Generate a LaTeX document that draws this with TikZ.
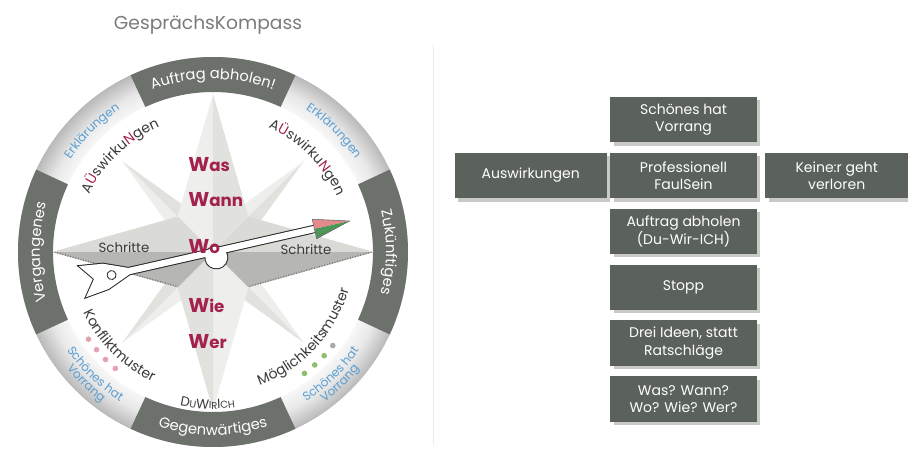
\documentclass[tikz,border=0pt]{standalone}
\usepackage{fontspec}
\setmainfont{Poppins}
\usetikzlibrary{positioning,calc,decorations.text,shadows}

\definecolor{ringdark}{HTML}{6D716C}
\definecolor{boxgray}{HTML}{5B615B}
\definecolor{shadowgray}{HTML}{C9C9C6}
\definecolor{wred}{HTML}{A3214D}
\definecolor{wblue}{HTML}{5A9ED2}
\definecolor{txtgray}{HTML}{3A3A3A}
\definecolor{titlegray}{HTML}{7B7B7B}
\definecolor{starA}{HTML}{EEEEEC}
\definecolor{starB}{HTML}{E1E1DE}
\definecolor{pointA}{HTML}{DADAD7}
\definecolor{pointB}{HTML}{B6B7B3}
\definecolor{tippink}{HTML}{E58A8C}
\definecolor{tipgreen}{HTML}{4E9558}
\definecolor{dotpink}{HTML}{E3A2AE}
\definecolor{dotgreen}{HTML}{8DBE6C}
\definecolor{dotgrey}{HTML}{A9AAA5}

\pgfdeclareradialshading{rimshade}{\pgfpoint{0bp}{0bp}}{color(0bp)=(gray!6); color(20.5bp)=(gray!6); color(22.5bp)=(gray!18); color(25bp)=(gray!55); color(50bp)=(gray!55)}

\newcommand{\ringfont}{\fontsize{11}{13}\selectfont\color{white}}
\newcommand{\awfont}{\fontsize{10.5}{12}\selectfont\color{txtgray}}
\newcommand{\bluefont}{\fontsize{9}{10}\selectfont\color{wblue}}
\newcommand{\scbig}{\fontsize{10}{12}\selectfont\color{txtgray}}
\newcommand{\scsmall}{\fontsize{7.5}{9}\selectfont\color{txtgray}}
\newcommand{\bigW}{{\fontsize{15}{17}\selectfont W}}

% text on a circle round the origin: clockwise (tops out) or counter-clockwise (tops in)
\newcommand{\cwtext}[4]{\path[decorate,decoration={text along path,text align=center,text={|#3|#4}}]
  ({#1+80}:#2) arc[start angle={#1+80},end angle={#1-80},radius=#2];}
\newcommand{\ccwtext}[4]{\path[decorate,decoration={text along path,text align=center,text={|#3|#4}}]
  ({#1-80}:#2) arc[start angle={#1-80},end angle={#1+80},radius=#2];}

\tikzset{
  kbox/.style={fill=boxgray, text=white, align=center, inner sep=0pt,
    minimum width=110pt, minimum height=34pt, font=\fontsize{10.5}{13}\selectfont,
    drop shadow={shadow xshift=2.5pt, shadow yshift=-2.5pt, fill=shadowgray, opacity=1}},
  wword/.style={anchor=west, text=wred, inner sep=0pt, font=\fontsize{12.5}{15}\selectfont\bfseries},
  schritt/.style={text=txtgray, inner sep=0pt, font=\fontsize{10}{11}\selectfont},
  ruler/.style={draw=black!55, line width=2.2pt, dash pattern=on 0.6pt off 1.4pt},
  needleline/.style={draw=black!85, line width=1.5pt},
  needlefill/.style={fill=white}
}

\begin{document}
\begin{tikzpicture}[x=0.75pt,y=0.75pt]
\useasboundingbox (0,0) rectangle (908,451);

\node[text=titlegray, font=\fontsize{14}{16}\selectfont] (title) at (208,426) {GesprächsKompass};
\draw[black!8, line width=0.6pt] (433,406) -- (433,6);

\begin{scope}[shift={(213,199)}]
  % rim with the four dark sectors
  \shade[shading=rimshade] (0,0) circle (195);
  \fill[white] (0,0) circle (160);
  \foreach \a in {0,90,180,270}
    \fill[ringdark] ({\a-25}:195) arc[start angle={\a-25}, end angle={\a+25}, radius=195]
      -- ({\a+25}:160) arc[start angle={\a+25}, end angle={\a-25}, radius=160] -- cycle;

  % compass rose
  \foreach \a in {45,135,225,315} {
    \fill[starA] (0,0) -- ({\a+20}:42) -- (\a:128) -- cycle;
    \fill[starB] (0,0) -- (\a:128) -- ({\a-20}:42) -- cycle;
  }
  \foreach \a in {90,270} {
    \fill[starA] (0,0) -- ({\a+45}:50) -- (\a:158) -- cycle;
    \fill[starB] (0,0) -- (\a:158) -- ({\a-45}:50) -- cycle;
  }
  \foreach \a/\u/\l in {0/45/-45,180/135/225} {
    \fill[pointA] (0,0) -- (\u:50) -- (\a:161) -- cycle;
    \fill[pointB] (0,0) -- (\a:161) -- (\l:50) -- cycle;
    \begin{scope}
      \clip (0,0) -- (\a:161) -- (\l:50) -- cycle;
      \draw[ruler] (\a:161) -- (\l:50);
    \end{scope}
  }

  % rim texts
  \cwtext{90}{173}{\ringfont}{Auftrag abholen!}
  \cwtext{180}{173}{\ringfont}{Vergangenes}
  \cwtext{0}{173}{\ringfont}{Zukünftiges}
  \ccwtext{270}{183}{\ringfont}{Gegenwärtiges}
  \cwtext{135}{170}{\bluefont}{Erklärungen}
  \cwtext{45}{170}{\bluefont}{Erklärungen}
  \ccwtext{226}{176}{\bluefont}{Schönes hat}
  \ccwtext{226}{187}{\bluefont}{Vorrang}
  \ccwtext{314}{176}{\bluefont}{Schönes hat}
  \ccwtext{314}{187}{\bluefont}{Vorrang}

  % inner ring of words
  \cwtext{134}{136}{\awfont}{A|\awfont\color{wred}|Ü|\awfont|swirku|\awfont\color{wred}|N|\awfont|gen}
  \cwtext{45}{136}{\awfont}{A|\awfont\color{wred}|Ü|\awfont|swirku|\awfont\color{wred}|N|\awfont|gen}
  \ccwtext{225}{143}{\awfont}{Konfliktmuster}
  \ccwtext{317}{141}{\awfont}{Möglichkeitsmuster}
  \ccwtext{268}{157}{\scbig}{D|\scsmall|U|\scbig|W|\scsmall|IR|\scbig|I|\scsmall|CH}

  \foreach \a in {215,220,225,230}
    \fill[dotpink] (\a:152) circle (2.8);
  \foreach \a/\c in {307/dotgreen,312/dotgreen,317/dotgreen,322/dotgrey}
    \fill[\c] (\a:152) circle (2.8);

  \node[schritt] (schrittL) at (-89,5) {Schritte};
  \node[schritt] (schrittR) at (93,3) {Schritte};

  % needle
  \begin{scope}[rotate=12.8]
    \foreach \s in {needleline,needlefill} {
      \path[\s] (106,3.2) -- (-86,3.2) -- (-110,13) -- (-134,16) -- (-122,0)
        -- (-134,-16) -- (-110,-13) -- (-86,-3.2) -- (106,-3.2) -- cycle;
      \path[\s] (2,-6) circle (11);
    }
    \draw[black!85, fill=white, line width=0.6pt] (-104,0) circle (4.5);
    \fill[tippink] (104,0) -- (104,10) -- (140,0) -- cycle;
    \fill[tipgreen] (104,0) -- (140,0) -- (104,-10) -- cycle;
    \draw[black!60, line width=0.4pt] (104,10) -- (140,0) -- (104,-10) -- cycle;
  \end{scope}

  \node[wword] (was)  at (-25,87)  {\bigW as};
  \node[wword] (wann) at (-25,52)  {\bigW ann};
  \node[wword] (wo)   at (-25,5)   {\bigW o};
  \node[wword] (wie)  at (-25,-54) {\bigW ie};
  \node[wword] (wer)  at (-25,-90) {\bigW er};
\end{scope}

% cards
\node[kbox] (prof) at (683.5,275.5) {Professionell\\FaulSein};
\node[kbox, above=7.5pt of prof] (schoen) {Schönes hat\\Vorrang};
\node[kbox, minimum width=114pt, left=2.2pt of prof] (ausw) {Auswirkungen};
\node[kbox, minimum width=107pt, right=6pt of prof] (keiner) {Keine:r geht\\verloren};
\node[kbox, below=7.5pt of prof] (auftrag) {Auftrag abholen\\(Du-Wir-ICH)};
\node[kbox, below=7.5pt of auftrag] (stopp) {Stopp};
\node[kbox, below=7.5pt of stopp] (ideen) {Drei Ideen, statt\\Ratschläge};
\node[kbox, below=7.5pt of ideen] (fragen) {Was? Wann?\\Wo? Wie? Wer?};
\end{tikzpicture}
\end{document}
